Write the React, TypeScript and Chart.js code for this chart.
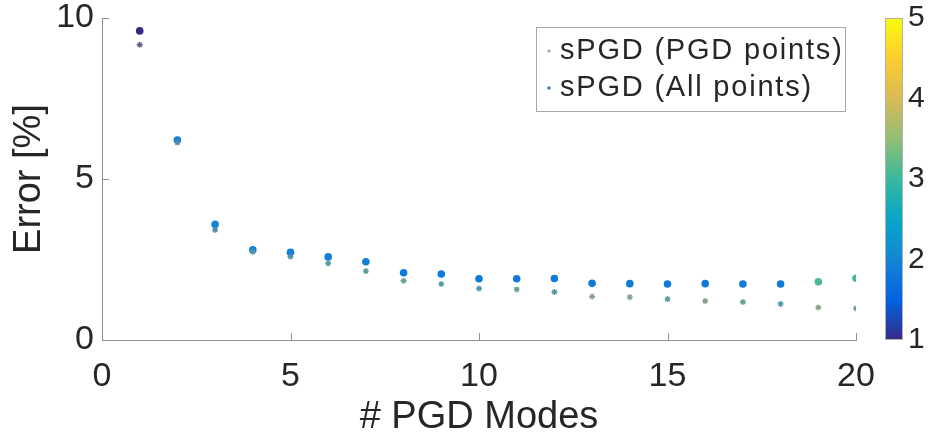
import React, { useEffect, useRef } from 'react';
import { Chart, registerables } from 'chart.js';

Chart.register(...registerables);

// ---- data ----
const modes = [1, 2, 3, 4, 5, 6, 7, 8, 9, 10, 11, 12, 13, 14, 15, 16, 17, 18, 19, 20];
const errorAllPoints = [9.6, 6.21, 3.59, 2.8, 2.72, 2.58, 2.43, 2.09, 2.05, 1.9, 1.9, 1.91, 1.76, 1.75, 1.74, 1.75, 1.74, 1.74, 1.81, 1.92];
const errorPgdPoints = [9.17, 6.13, 3.42, 2.74, 2.59, 2.38, 2.14, 1.84, 1.74, 1.6, 1.57, 1.49, 1.35, 1.33, 1.27, 1.21, 1.18, 1.12, 1.01, 0.98];
const colourAllPoints = [1.0, 2.0, 2.0, 1.9, 1.9, 1.9, 1.9, 1.85, 1.85, 1.85, 1.85, 1.85, 1.85, 1.85, 1.85, 1.85, 1.85, 1.85, 3.1, 3.1];
const colourPgdPoints = [1.0, 2.0, 2.2, 2.4, 2.2, 2.6, 2.8, 3.0, 2.6, 2.4, 3.0, 2.6, 3.3, 3.3, 2.8, 3.3, 3.0, 2.6, 3.4, 3.0];
const xTicks = [0, 5, 10, 15, 20];
const yTicks = [0, 5, 10];
const colourTicks = [1, 2, 3, 4, 5];
const seriesLabels = ['sPGD (PGD points)', 'sPGD (All points)'];
const xTitle = '# PGD Modes';
const yTitle = 'Error [%]';

const parula = ['#352a87', '#0363e1', '#1485d4', '#06a7c6', '#38b99e', '#92bf73', '#d9ba56', '#fcce2e', '#f9fb0e'];

const FONT = '"Liberation Sans", Arial, Helvetica, sans-serif';
const TEXT = '#262626';
const AXIS = '#8f8f8f';

function hexToRgb(h: string) {
  const n = parseInt(h.slice(1), 16);
  return [(n >> 16) & 255, (n >> 8) & 255, n & 255];
}
function parulaAt(v: number, cmin = 1, cmax = 5) {
  let t = (v - cmin) / (cmax - cmin);
  t = Math.max(0, Math.min(1, t));
  const p = t * (parula.length - 1);
  const i = Math.min(parula.length - 2, Math.floor(p));
  const f = p - i;
  const a = hexToRgb(parula[i]);
  const b = hexToRgb(parula[i + 1]);
  return a.map((c, k) => Math.round(c + (b[k] - c) * f));
}
function rgb(c: number[]) {
  return `rgb(${c[0]},${c[1]},${c[2]})`;
}
function greyed(c: number[]) {
  return rgb(c.map((x) => Math.round(x * 0.45 + 140 * 0.55)));
}

const decorPlugin = {
  id: 'decor',
  afterDraw(chart: any) {
    const { ctx, chartArea, scales } = chart;
    const xs = scales.x;
    const ys = scales.y;
    const cb = scales.cb;
    ctx.save();
    // inward tick marks
    ctx.strokeStyle = AXIS;
    ctx.lineWidth = 1;
    ctx.beginPath();
    for (const t of xTicks) {
      if (t === xs.min) continue;
      const px = Math.round(xs.getPixelForValue(t)) + 0.5;
      ctx.moveTo(px, chartArea.bottom);
      ctx.lineTo(px, chartArea.bottom - 7);
    }
    for (const t of yTicks) {
      if (t === ys.min) continue;
      const py = Math.round(ys.getPixelForValue(t)) + 0.5;
      ctx.moveTo(chartArea.left, py);
      ctx.lineTo(chartArea.left + 7, py);
    }
    ctx.stroke();

    // colour bar
    const top = cb.getPixelForValue(cb.max);
    const bot = cb.getPixelForValue(cb.min);
    const x0 = cb.left + 29;
    const w = 18;
    const g = ctx.createLinearGradient(0, bot, 0, top);
    parula.forEach((c, i) => g.addColorStop(i / (parula.length - 1), c));
    ctx.fillStyle = g;
    ctx.fillRect(x0, top, w, bot - top);
    ctx.strokeStyle = '#b0b0b0';
    ctx.strokeRect(x0 + 0.5, top + 0.5, w - 1, bot - top - 1);

    // legend
    const lx = 536;
    const ly = chartArea.top + 9;
    const lw = chartArea.right - 11 - lx;
    const lh = 84;
    ctx.fillStyle = '#ffffff';
    ctx.fillRect(lx, ly, lw, lh);
    ctx.strokeStyle = '#a8a8a8';
    ctx.strokeRect(lx + 0.5, ly + 0.5, lw, lh);
    ctx.font = `29px ${FONT}`;
    (ctx as any).letterSpacing = '1.8px';
    ctx.textBaseline = 'middle';
    ctx.textAlign = 'left';
    ctx.fillStyle = TEXT;
    const rows = [ly + 24, ly + 61];
    ctx.fillText(seriesLabels[0], lx + 24, rows[0]);
    ctx.fillText(seriesLabels[1], lx + 24, rows[1]);
    ctx.fillStyle = '#a0a6a4';
    ctx.beginPath();
    ctx.arc(lx + 13, rows[0], 1.6, 0, Math.PI * 2);
    ctx.fill();
    ctx.fillStyle = '#3f7cc4';
    ctx.beginPath();
    ctx.arc(lx + 13, rows[1], 1.8, 0, Math.PI * 2);
    ctx.fill();
    ctx.restore();
  },
};

export default function App() {
  const ref = useRef<HTMLCanvasElement | null>(null);
  useEffect(() => {
    if (!ref.current) return;
    const chart = new Chart(ref.current, {
      type: 'scatter',
      data: {
        datasets: [
          {
            label: seriesLabels[0],
            data: modes.map((m, i) => ({ x: m, y: errorPgdPoints[i] })),
            pointStyle: 'star',
            pointRadius: 3,
            pointBorderWidth: 1.3,
            pointBorderColor: colourPgdPoints.map((v) => greyed(parulaAt(v))),
            pointBackgroundColor: colourPgdPoints.map((v) => greyed(parulaAt(v))),
          },
          {
            label: seriesLabels[1],
            data: modes.map((m, i) => ({ x: m, y: errorAllPoints[i] })),
            pointStyle: 'circle',
            pointRadius: 3.8,
            pointBorderWidth: 0,
            pointBackgroundColor: colourAllPoints.map((v) => rgb(parulaAt(v))),
            pointBorderColor: colourAllPoints.map((v) => rgb(parulaAt(v))),
          },
        ],
      },
      options: {
        animation: false,
        responsive: true,
        maintainAspectRatio: false,
        layout: { padding: { top: 18, left: 0, right: 0, bottom: 0 } },
        plugins: {
          legend: { display: false },
          tooltip: { enabled: false },
        },
        scales: {
          x: {
            type: 'linear',
            position: 'bottom',
            min: 0,
            max: 20,
            afterBuildTicks: (s: any) => {
              s.ticks = xTicks.map((v) => ({ value: v }));
            },
            afterFit: (s: any) => {
              s.height = 100;
            },
            grid: { display: false, drawTicks: true, tickLength: 20 },
            border: { display: true, color: AXIS, width: 1 },
            ticks: {
              padding: 0,
              color: TEXT,
              font: { family: FONT, size: 34, lineHeight: 1.0 },
              maxRotation: 0,
            },
            title: {
              display: true,
              text: xTitle,
              color: TEXT,
              font: { family: FONT, size: 38, lineHeight: 1.2 },
              padding: { top: 0, bottom: 0 },
            },
          },
          y: {
            type: 'linear',
            position: 'left',
            min: 0,
            max: 10,
            afterBuildTicks: (s: any) => {
              s.ticks = yTicks.map((v) => ({ value: v }));
            },
            afterFit: (s: any) => {
              s.width = 102;
            },
            grid: { display: false, drawTicks: true, tickLength: 8 },
            border: { display: true, color: AXIS, width: 1 },
            ticks: {
              padding: 0,
              color: TEXT,
              font: { family: FONT, size: 34, lineHeight: 1.0 },
            },
            title: {
              display: true,
              text: yTitle,
              color: TEXT,
              font: { family: FONT, size: 38, lineHeight: 1.2 },
              padding: { top: 7, bottom: 0 },
            },
          },
          cb: {
            type: 'linear',
            position: 'right',
            min: 1,
            max: 5,
            afterBuildTicks: (s: any) => {
              s.ticks = colourTicks.map((v) => ({ value: v }));
            },
            afterFit: (s: any) => {
              s.width = 75;
            },
            grid: { display: false, drawTicks: true, tickLength: 52 },
            border: { display: false },
            ticks: {
              padding: 0,
              color: TEXT,
              font: { family: FONT, size: 30, lineHeight: 1.0 },
            },
          },
        },
      },
      plugins: [decorPlugin],
    } as any);
    return () => chart.destroy();
  }, []);

  return (
    <div style={{ position: 'fixed', left: 0, top: 0, width: 931, height: 440, background: '#ffffff' }}>
      <canvas ref={ref} />
    </div>
  );
}
